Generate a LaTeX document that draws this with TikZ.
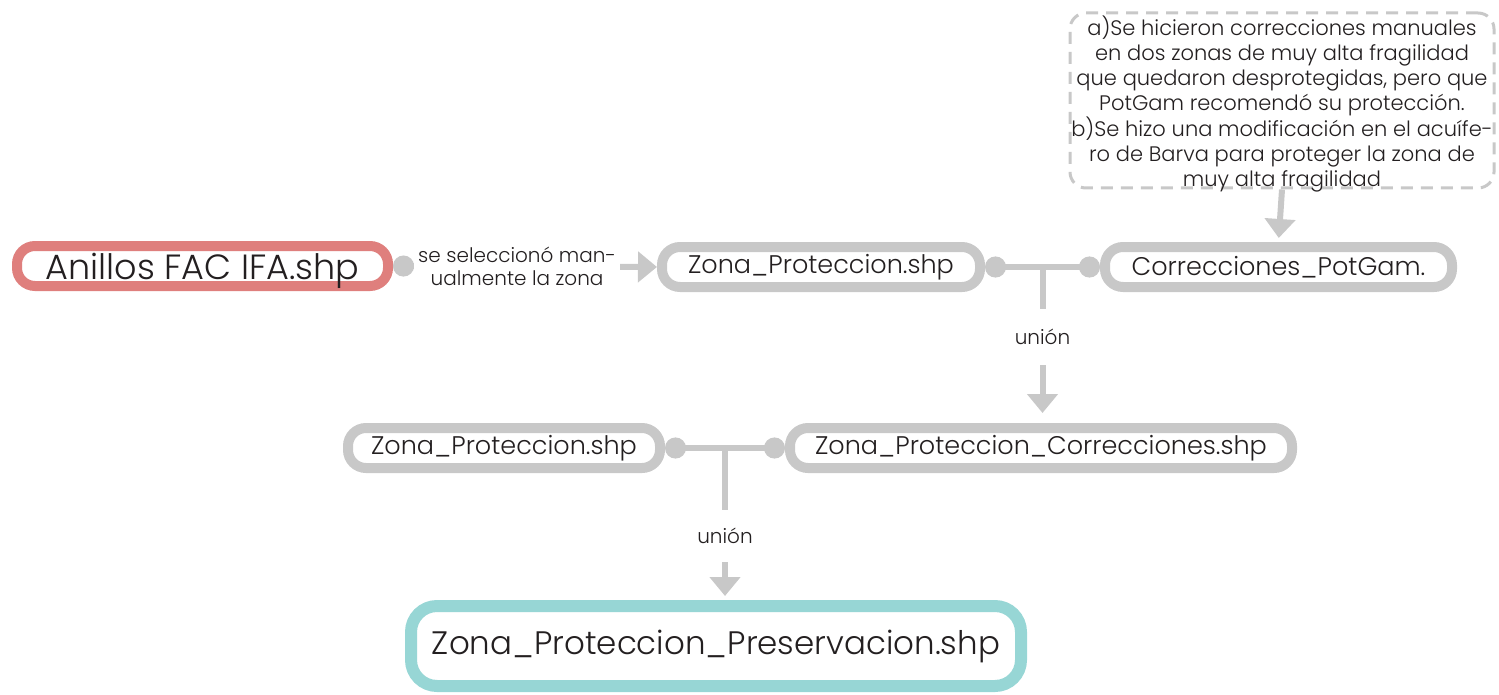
\documentclass[tikz,border=0pt]{standalone}
\usepackage{fontspec}
\setmainfont{Poppins}[UprightFont=* Light]
\usetikzlibrary{arrows.meta}
\definecolor{gline}{HTML}{C8C8C8}
\definecolor{redb}{HTML}{DF7F7D}
\definecolor{tealb}{HTML}{97D6D5}
\definecolor{txt}{HTML}{231F20}
\tikzset{
  box/.style={draw=gline, line width=10pt, rounded corners=18pt, fill=white, text=txt, inner sep=0pt, minimum height=40pt},
  conn/.style={draw=gline, line width=6pt},
  arr/.style={-{Triangle[width=30pt,length=19pt]}},
  dotsE/.style={{Circle[length=21pt]}-{Circle[length=21pt]}},
  lbl/.style={fill=white, text=txt, font=\fontsize{20}{23}\selectfont, align=center},
}
\begin{document}
\begin{tikzpicture}[x=1pt,y=-1pt]
\useasboundingbox (0,0) rectangle (1499,695);
% nodes
\node[box, draw=redb, minimum width=371pt, text depth=0pt, font=\fontsize{35}{38}\selectfont] (anillos) at (202.5,266) {Anillos FAC IFA.shp};
\node[box, minimum width=318pt, font=\fontsize{25.5}{28}\selectfont] (zp1) at (821,267) {Zona\_Proteccion.shp};
\node[box, minimum width=347pt, font=\fontsize{25.5}{28}\selectfont] (corr) at (1278.5,267) {Correcciones\_PotGam.};
\node[draw=gline, line width=3pt, dash pattern=on 12pt off 8pt, rounded corners=16pt, minimum width=424pt, minimum height=175pt, inner sep=0pt] (note) at (1282,100.5) {};
\node[text=txt, align=center, font=\fontsize{21}{25.3}\selectfont, inner sep=0pt] (notetext) at (1282,104) {a)Se hicieron correcciones manuales\\en dos zonas de muy alta fragilidad\\que quedaron desprotegidas, pero que\\PotGam recomendó su protección.\\b)Se hizo una modificación en el acuífe-\\ro de Barva para proteger la zona de\\muy alta fragilidad};
\node[box, minimum width=312pt, font=\fontsize{25.5}{28}\selectfont] (zp2) at (504,448) {Zona\_Proteccion.shp};
\node[box, minimum width=502pt, font=\fontsize{25.5}{28}\selectfont] (zpc) at (1041,448) {Zona\_Proteccion\_Correcciones.shp};
\node[box, draw=tealb, line width=12pt, rounded corners=26pt, minimum width=610pt, minimum height=80pt, font=\fontsize{32.5}{38}\selectfont] (zpp) at (716,646) {Zona\_Proteccion\_Preservacion.shp};
% connectors
\draw[conn, {Circle[length=21pt]}-{Triangle[width=30pt,length=19pt]}] (anillos.east) -- node[lbl, pos=0.47, inner sep=4pt] (l0) {se seleccionó man-\\ualmente la zona} (zp1.west);
\draw[conn, arr, shorten >=4pt] (note.south) -- (corr.north);
\draw[conn, dotsE] (zp1.east) -- coordinate (j1) (corr.west);
\draw[conn, arr, shorten >=10pt] (j1) -- node[lbl, pos=0.45, minimum height=56pt] (u1) {unión} (j1 |- zpc.north);
\draw[conn, dotsE] (zp2.east) -- coordinate (j2) (zpc.west);
\draw[conn, arr, shorten >=4pt] (j2) -- node[lbl, pos=0.58, minimum height=52pt] (u2) {unión} (j2 |- zpp.north);
\end{tikzpicture}
\end{document}
